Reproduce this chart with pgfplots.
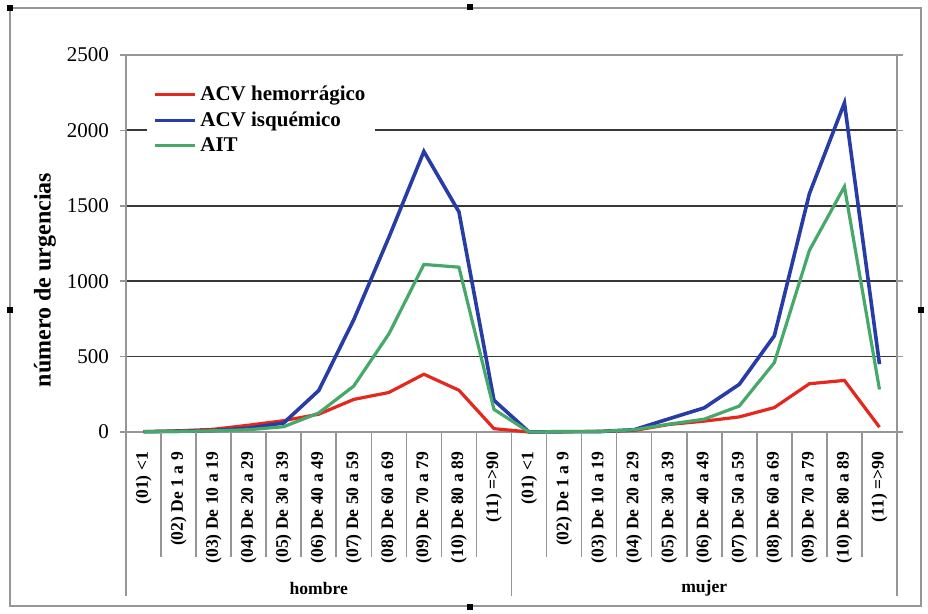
\documentclass[border=0pt]{standalone}
\usepackage{pgfplots}
\pgfplotsset{compat=1.18}
\usepackage{pgfplotstable}
\usepackage{fontspec}
\setmainfont{Liberation Serif}

\definecolor{cHem}{RGB}{228,40,30}
\definecolor{cIsq}{RGB}{40,60,165}
\definecolor{cAit}{RGB}{70,168,105}
\definecolor{cGrid}{RGB}{55,55,55}
\definecolor{cFrame}{RGB}{150,150,150}

% x = category position (hombre 0.5..10.5, mujer 11.5..21.5)
\pgfplotstableread{
x     hem   isq    ait
0.5   2     2      1
1.5   8     5      4
2.5   18    10     8
3.5   45    25     15
4.5   75    60     35
5.5   118   275    126
6.5   216   745    305
7.5   262   1290   650
8.5   383   1860   1111
9.5   277   1460   1093
10.5  22    210    150
11.5  0     0      0
12.5  2     2      2
13.5  3     3      3
14.5  10    15     15
15.5  50    88     52
16.5  72    160    85
17.5  100   316    172
18.5  162   638    460
19.5  320   1580   1204
20.5  342   2182   1627
21.5  32    450    282
}\datatable

\begin{document}
\begin{tikzpicture}
\path[use as bounding box, fill=white] (0,0) rectangle (464pt,307pt);
\draw[cFrame, line width=0.8pt] (5pt,4pt) rectangle (460.5pt,303pt);
\foreach \p in {(5pt,303pt),(235pt,303.5pt),(5pt,152pt),(460.5pt,152pt),(235pt,3.5pt)}
  \fill[black] \p ++(-1.6pt,-1.6pt) rectangle ++(3.2pt,3.2pt);

\begin{axis}[
  at={(63pt,91pt)}, anchor=south west,
  scale only axis, width=385.5pt, height=188.5pt,
  xmin=0, xmax=22, ymin=0, ymax=2500,
  ytick={0,500,...,2500},
  ymajorgrids, grid style={cGrid, line width=0.9pt},
  axis line style={cFrame, line width=0.8pt},
  y tick style={cFrame, line width=0.8pt},
  tick align=outside, major tick length=3pt,
  yticklabel style={font=\fontsize{10.5}{12}\selectfont, xshift=-2pt},
  /pgf/number format/assume math mode=true,
  /pgf/number format/1000 sep={},
  xtick={0.5,1.5,...,21.5},
  x tick style={draw=none},
  xticklabels={(01) <1,(02) De 1 a 9,(03) De 10 a 19,(04) De 20 a 29,(05) De 30 a 39,(06) De 40 a 49,(07) De 50 a 59,(08) De 60 a 69,(09) De 70 a 79,(10) De 80 a 89,(11) =>90,
               (01) <1,(02) De 1 a 9,(03) De 10 a 19,(04) De 20 a 29,(05) De 30 a 39,(06) De 40 a 49,(07) De 50 a 59,(08) De 60 a 69,(09) De 70 a 79,(10) De 80 a 89,(11) =>90},
  xticklabel style={rotate=90, anchor=east, font=\bfseries\fontsize{8.8}{10}\selectfont, xshift=-3.5pt},
  legend style={at={(rel axis cs:0.027,0.94)}, anchor=north west, draw=none, fill=white,
    font=\bfseries\fontsize{10.5}{12}\selectfont, row sep=0pt, inner xsep=3pt, inner ysep=2pt},
  legend cell align=left,
  legend image code/.code={\draw[#1, line width=1.6pt] (0pt,0pt) -- (20pt,0pt);},
  clip=false,
]
\addplot[cHem, line width=1.6pt] table[x=x, y=hem] {\datatable};
\addlegendentry{ACV hemorrágico}
\addplot[cIsq, line width=1.8pt] table[x=x, y=isq] {\datatable};
\addlegendentry{ACV isquémico}
\addplot[cAit, line width=1.6pt] table[x=x, y=ait] {\datatable};
\addlegendentry{AIT}

\pgfplotsinvokeforeach{1,2,3,4,5,6,7,8,9,10,12,13,14,15,16,17,18,19,20,21}{
  \draw[cFrame, line width=0.8pt] (axis cs:#1,0) -- ++(0,-62.5pt);
}
\pgfplotsinvokeforeach{0,11,22}{
  \draw[cFrame, line width=0.8pt] (axis cs:#1,0) -- ++(0,-82pt);
}
\node[font=\bfseries\fontsize{8.8}{10}\selectfont] at ([yshift=-78pt]axis cs:5.5,0) {hombre};
\node[font=\bfseries\fontsize{8.8}{10}\selectfont] at ([yshift=-78pt]axis cs:16.5,0) {mujer};
\end{axis}

\node[rotate=90, font=\bfseries\fontsize{12}{14}\selectfont] at (22.5pt,167pt) {número de urgencias};
\end{tikzpicture}
\end{document}
